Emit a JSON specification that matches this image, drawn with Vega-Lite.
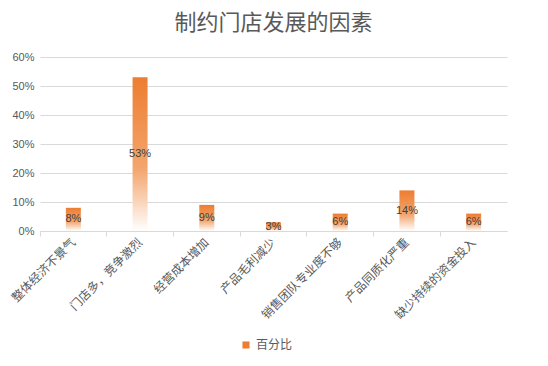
{
  "$schema": "https://vega.github.io/schema/vega-lite/v6.json",
  "width": 467,
  "height": 174,
  "autosize": "none",
  "padding": {"left": 40, "top": 57, "right": 41, "bottom": 135},
  "background": "white",
  "title": {
    "text": "制约门店发展的因素",
    "fontSize": 22,
    "font": "Noto Sans CJK SC",
    "fontWeight": "normal",
    "color": "#595959",
    "offset": 16,
    "anchor": "middle"
  },
  "data": {
    "values": [
      {"factor": "整体经济不景气", "v": 0.08, "series": "百分比"},
      {"factor": "门店多，竞争激烈", "v": 0.53, "series": "百分比"},
      {"factor": "经营成本增加", "v": 0.09, "series": "百分比"},
      {"factor": "产品毛利减少", "v": 0.03, "series": "百分比"},
      {"factor": "销售团队专业度不够", "v": 0.06, "series": "百分比"},
      {"factor": "产品同质化严重", "v": 0.14, "series": "百分比"},
      {"factor": "缺少持续的资金投入", "v": 0.06, "series": "百分比"}
    ]
  },
  "encoding": {
    "x": {
      "field": "factor",
      "type": "nominal",
      "sort": null,
      "scale": {"paddingInner": 0, "paddingOuter": 0},
      "axis": {
        "title": null,
        "labelAngle": -45,
        "labelAlign": "right",
        "labelBaseline": "middle",
        "labelFont": "Noto Sans CJK SC",
        "labelFontSize": 12,
        "labelColor": "#595959",
        "labelPadding": 4,
        "domainColor": "#D9D9D9",
        "tickColor": "#D9D9D9",
        "tickSize": 5,
        "bandPosition": 0,
        "grid": false
      }
    }
  },
  "layer": [
    {
      "mark": {
        "type": "bar",
        "width": 15,
        "fill": {
          "gradient": "linear",
          "x1": 0, "y1": 0, "x2": 0, "y2": 1,
          "stops": [
            {"offset": 0, "color": "#ED7D31"},
            {"offset": 0.6, "color": "#F3A66F"},
            {"offset": 1, "color": "#FFFFFF"}
          ]
        }
      },
      "encoding": {
        "y": {
          "field": "v",
          "type": "quantitative",
          "scale": {"domain": [0, 0.6]},
          "axis": {
            "title": null,
            "format": ".0%",
            "values": [0, 0.1, 0.2, 0.3, 0.4, 0.5, 0.6],
            "domain": false,
            "ticks": false,
            "labelFont": "Liberation Sans",
            "labelFontSize": 11,
            "labelColor": "#595959",
            "labelPadding": 6,
            "gridColor": "#D9D9D9"
          }
        }
      }
    },
    {
      "mark": {"type": "square", "opacity": 0, "size": 1},
      "encoding": {
        "color": {
          "field": "series",
          "type": "nominal",
          "scale": {"range": ["#ED7D31"]},
          "legend": {
            "title": null,
            "orient": "none",
            "legendX": 200,
            "legendY": 282,
            "symbolType": "square",
            "symbolSize": 50,
            "symbolOpacity": 1,
            "symbolFillColor": "#ED7D31",
            "labelFont": "Noto Sans CJK SC",
            "labelFontSize": 12,
            "labelColor": "#595959"
          }
        }
      }
    },
    {
      "transform": [{"calculate": "datum.v / 2", "as": "mid"}],
      "mark": {
        "type": "text",
        "font": "Liberation Sans",
        "fontSize": 11,
        "color": "#404040",
        "baseline": "middle",
        "align": "center"
      },
      "encoding": {
        "y": {
          "field": "mid",
          "type": "quantitative",
          "scale": {"domain": [0, 0.6]},
          "axis": {
            "title": null,
            "format": ".0%",
            "values": [0, 0.1, 0.2, 0.3, 0.4, 0.5, 0.6],
            "domain": false,
            "ticks": false,
            "labelFont": "Liberation Sans",
            "labelFontSize": 11,
            "labelColor": "#595959",
            "labelPadding": 6,
            "gridColor": "#D9D9D9"
          }
        },
        "text": {"field": "v", "type": "quantitative", "format": ".0%"}
      }
    }
  ],
  "config": {"view": {"stroke": null}}
}
